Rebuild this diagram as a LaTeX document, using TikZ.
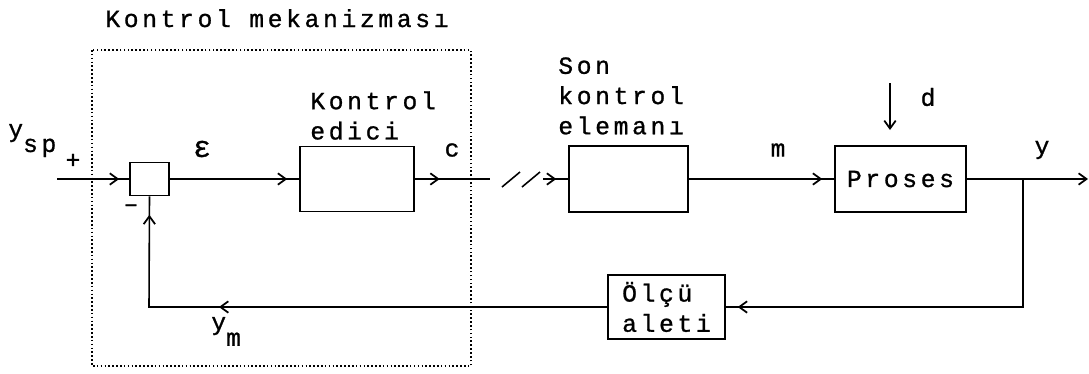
\documentclass[tikz,border=0pt]{standalone}
\usepackage{fontspec}
\newfontfamily\dotfont{Liberation Mono}[FakeBold=1,LetterSpace=15]
\usetikzlibrary{arrows.meta,decorations.markings}

\tikzset{
  kanca/.tip={Straight Barb[length=4.5pt,width=6.5pt,line width=1pt]},
  hat/.style={line width=0.9pt},
  blok/.style={draw, line width=0.9pt, inner sep=0pt},
  lbl/.style={font=\dotfont\fontsize{14}{17.2}\selectfont, inner sep=0pt},
  okat/.style={postaction={decorate}, decoration={markings, mark=at position #1 with {\arrow{kanca}}}},
  okiki/.style 2 args={postaction={decorate}, decoration={markings,
      mark=at position #1 with {\arrow{kanca}}, mark=at position #2 with {\arrow{kanca}}}},
}

\begin{document}
\begin{tikzpicture}[x=0.02cm, y=-0.02cm]
    \useasboundingbox (0,0) rectangle (1089,373);

    % kontrol mekanizmasi cercevesi
    \draw[line width=0.9pt, dash pattern=on 0.9pt off 1.3pt] (92,50) rectangle (471,366);
    \node[lbl, anchor=base] (mek) at (277,27) {Kontrol mekanizması};

    % bloklar
    \node[blok, minimum width=0.78cm, minimum height=0.66cm] (sum) at (149.5,179) {};
    \node[blok, minimum width=2.28cm, minimum height=1.3cm] (ctrl) at (357,179) {};
    \node[blok, minimum width=2.38cm, minimum height=1.32cm] (son) at (628.5,179) {};
    \node[blok, lbl, minimum width=2.62cm, minimum height=1.32cm] (proses) at (900.5,179) {Proses};
    \node[blok, lbl, align=left, minimum width=2.34cm, minimum height=1.28cm] (olcu) at (666.5,307) {Ölçü\\aleti};

    \node[lbl, align=left, anchor=north west] (ctrlad) at (310,91) {Kontrol\\edici};
    \node[lbl, align=left, anchor=north west] (sonad) at (558,57) {Son\\kontrol\\elemanı};

    % yardimci noktalar
    \coordinate (giris) at (57,179);
    \coordinate (kes1) at (490,179);
    \coordinate (kes2) at (543,179);
    \coordinate (dal) at (1023,179);
    \coordinate (cikis) at (1088,179);
    \coordinate (kose) at (149,307);
    \coordinate (d1) at (890,83);
    \coordinate (d2) at (890,130);

    % baglantilar
    \draw[hat, okat=-5.7pt] (giris) -- (sum.west);
    \draw[hat, okat=-6.8pt] (sum.east) -- (ctrl.west);
    \draw[hat, okat=14.2pt] (ctrl.east) -- (kes1);
    \draw[hat] (502,187) -- (520,172) (522,187) -- (540,172);
    \draw[hat, okat=-6.8pt] (kes2) -- (son.west);
    \draw[hat, okat=-6.8pt] (son.east) -- (proses.west);
    \draw[hat, -kanca] (proses.east) -- (cikis);
    \draw[hat, -kanca] (d1) -- (d2);
    \draw[hat, okat=-6.8pt] (dal) |- (olcu.east);
    \draw[hat, okiki={221pt}{-10.5pt}] (olcu.west) -- (kose) -- (sum.south);

    % etiketler
    \node[lbl, anchor=base west] (ysp) at (8,137) {y\raisebox{-8.5pt}{sp}};
    \node[lbl] (arti) at (73,161) {+};
    \node[lbl] (eksi) at (131,208) {–};
    \node[lbl, font=\dotfont\fontsize{17}{17}\selectfont] (eps) at (202,149) {ε};
    \node[lbl] (c) at (452,150) {c};
    \node[lbl] (m) at (778,150) {m};
    \node[lbl] (y) at (1042,150) {y};
    \node[lbl] (d) at (928,97) {d};
    \node[lbl, anchor=base west] (ym) at (211,330) {y\raisebox{-9pt}{m}};
\end{tikzpicture}
\end{document}
